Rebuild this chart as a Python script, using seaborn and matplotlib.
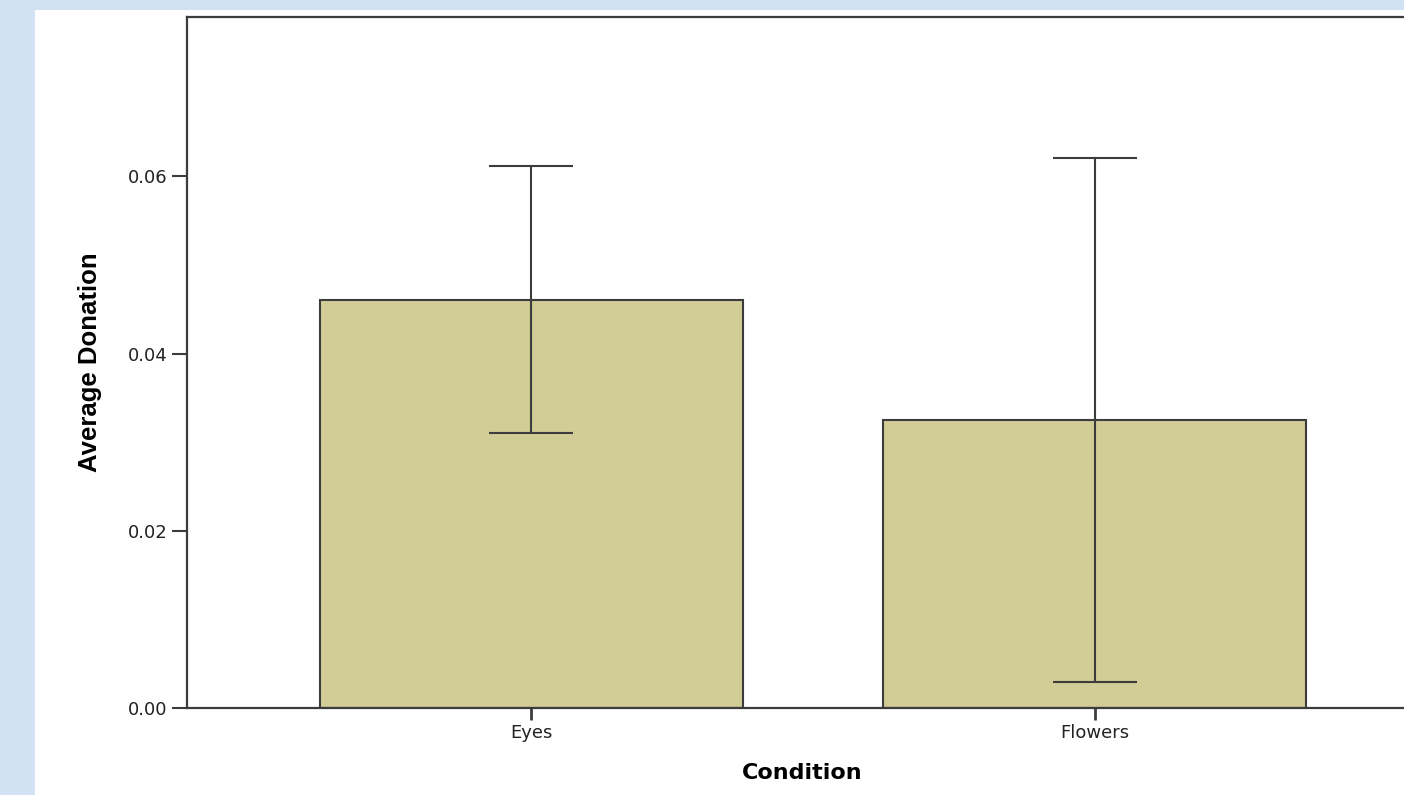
import numpy as np
import pandas as pd
import matplotlib
matplotlib.use('Agg')
import matplotlib.pyplot as plt
import seaborn as sns
from matplotlib.patches import Rectangle
from matplotlib.ticker import FormatStrFormatter

sns.set_theme(style="white")
plt.rcParams['font.family'] = ['DejaVu Sans']

# 数据
conditions = ['Eyes', 'Flowers']
mean_donation = [0.0461, 0.0325]
ci_half = [0.0151, 0.0296]
y_ticks = [0.00, 0.02, 0.04, 0.06]

df = pd.DataFrame({'Condition': conditions, 'Average Donation': mean_donation})

bar_color = '#D2CC96'
line_color = '#3C3C3C'

fig = plt.figure(figsize=(14.04, 7.95), dpi=100)
fig.patch.set_facecolor('#D2E1F3')
# 白色绘图区域（左侧和顶部留出浅蓝色边）
fig.patches.append(Rectangle((35 / 1404, 0), 1, 785 / 795, transform=fig.transFigure,
                             facecolor='white', edgecolor='none', zorder=-10))

ax = fig.add_axes([187 / 1404, 87 / 795, 1252 / 1404, 691 / 795])
ax.set_facecolor('white')

sns.barplot(data=df, x='Condition', y='Average Donation', ax=ax, color=bar_color,
            saturation=1, width=0.75, edgecolor=line_color, linewidth=1.5, errorbar=None)

# 误差线
centers = [p.get_x() + p.get_width() / 2 for p in ax.patches]
ax.errorbar(centers, mean_donation, yerr=ci_half, fmt='none', ecolor=line_color,
            elinewidth=1.5, capsize=30.5, capthick=1.5, zorder=5)

ax.set_xlim(-0.61, 1.61)
ax.set_ylim(0, 0.078)
ax.set_yticks(y_ticks)
ax.yaxis.set_major_formatter(FormatStrFormatter('%.2f'))

for side in ['left', 'bottom', 'top', 'right']:
    ax.spines[side].set_color(line_color)
    ax.spines[side].set_linewidth(1.6)

ax.tick_params(axis='y', direction='out', length=11, width=1.5, color=line_color,
               labelsize=13, pad=3, left=True)
ax.tick_params(axis='x', direction='out', length=8.5, width=2, color=line_color,
               labelsize=13, pad=3, bottom=True)
for lab in ax.get_xticklabels() + ax.get_yticklabels():
    lab.set_color('#222222')

ax.set_xlabel('Condition', fontsize=16, fontweight='bold', color='black')
ax.xaxis.set_label_coords(0.491, -0.08)
ax.set_ylabel('Average Donation', fontsize=18.5, fontweight='bold', color='black',
              family=['Liberation Sans'])
ax.yaxis.set_label_coords(-0.068, 0.5)

fig.savefig('out.png', dpi=100, facecolor=fig.get_facecolor())
